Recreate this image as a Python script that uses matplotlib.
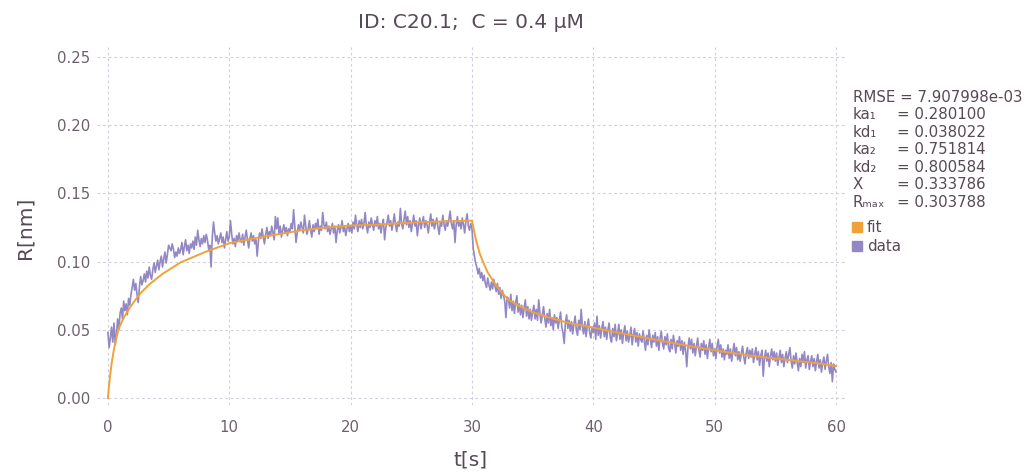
import matplotlib
matplotlib.use("Agg")
import matplotlib.pyplot as plt
from matplotlib.patches import Rectangle

plt.rcParams['font.family'] = ['DejaVu Sans']

# ---------------- data ----------------
data_dt = 0.1
data_r = [
    0.048, 0.037, 0.044, 0.052, 0.041, 0.055, 0.039, 0.047, 0.058, 0.050,
    0.062, 0.066, 0.058, 0.071, 0.064, 0.069, 0.061, 0.073, 0.068, 0.076,
    0.081, 0.087, 0.079, 0.084, 0.076, 0.070, 0.082, 0.089, 0.083, 0.086,
    0.091, 0.085, 0.093, 0.088, 0.096, 0.090, 0.087, 0.094, 0.099, 0.092,
    0.097, 0.101, 0.094, 0.100, 0.104, 0.096, 0.102, 0.107, 0.099, 0.105,
    0.112, 0.110, 0.108, 0.113, 0.109, 0.103, 0.107, 0.104, 0.110, 0.106,
    0.109, 0.114, 0.105, 0.111, 0.116, 0.108, 0.112, 0.106, 0.113, 0.110,
    0.115, 0.109, 0.118, 0.112, 0.123, 0.116, 0.111, 0.117, 0.113, 0.119,
    0.114, 0.120, 0.116, 0.109, 0.112, 0.096, 0.118, 0.129, 0.121, 0.115,
    0.119, 0.113, 0.117, 0.121, 0.114, 0.118, 0.110, 0.116, 0.122, 0.115,
    0.118, 0.130, 0.120, 0.113, 0.117, 0.111, 0.119, 0.115, 0.121, 0.116,
    0.114, 0.120, 0.112, 0.118, 0.123, 0.116, 0.110, 0.117, 0.121, 0.115,
    0.119, 0.113, 0.116, 0.104, 0.115, 0.121, 0.117, 0.124, 0.118, 0.113,
    0.120, 0.125, 0.117, 0.122, 0.119, 0.126, 0.121, 0.116, 0.133, 0.124,
    0.132, 0.120, 0.126, 0.118, 0.123, 0.127, 0.121, 0.125, 0.119, 0.124,
    0.122, 0.128, 0.124, 0.138, 0.126, 0.114, 0.121, 0.127, 0.123, 0.129,
    0.125, 0.121, 0.134, 0.126, 0.120, 0.124, 0.130, 0.123, 0.118, 0.127,
    0.122, 0.128, 0.125, 0.131, 0.120, 0.126, 0.123, 0.136, 0.127, 0.124,
    0.129, 0.122, 0.126, 0.120, 0.124, 0.128, 0.121, 0.126, 0.114, 0.123,
    0.127, 0.121, 0.125, 0.130, 0.122, 0.126, 0.119, 0.124, 0.128, 0.122,
    0.126, 0.121, 0.129, 0.124, 0.134, 0.127, 0.122, 0.130, 0.125, 0.131,
    0.124, 0.128, 0.136, 0.126, 0.121, 0.129, 0.125, 0.132, 0.127, 0.123,
    0.130, 0.126, 0.133, 0.124, 0.128, 0.121, 0.127, 0.131, 0.116, 0.125,
    0.129, 0.134, 0.126, 0.130, 0.123, 0.128, 0.135, 0.127, 0.122, 0.129,
    0.126, 0.139, 0.128, 0.124, 0.131, 0.137, 0.127, 0.133, 0.125, 0.130,
    0.122, 0.128, 0.134, 0.126, 0.130, 0.119, 0.127, 0.132, 0.124, 0.129,
    0.133, 0.125, 0.130, 0.127, 0.121, 0.128, 0.135, 0.126, 0.131, 0.124,
    0.128, 0.132, 0.125, 0.120, 0.129, 0.126, 0.134, 0.127, 0.123, 0.130,
    0.126, 0.131, 0.137, 0.128, 0.124, 0.130, 0.114, 0.127, 0.133, 0.126,
    0.129, 0.124, 0.132, 0.127, 0.121, 0.130, 0.135, 0.126, 0.123, 0.128,
    0.124, 0.110, 0.104, 0.099, 0.096, 0.091, 0.095, 0.088, 0.092, 0.086,
    0.090, 0.084, 0.081, 0.088, 0.083, 0.079, 0.085, 0.080, 0.087, 0.082,
    0.078, 0.084, 0.076, 0.081, 0.073, 0.079, 0.075, 0.071, 0.059, 0.074,
    0.073, 0.066, 0.076, 0.064, 0.071, 0.062, 0.070, 0.075, 0.063, 0.069,
    0.061, 0.068, 0.059, 0.066, 0.072, 0.060, 0.067, 0.058, 0.065, 0.057,
    0.063, 0.068, 0.058, 0.065, 0.057, 0.072, 0.062, 0.055, 0.061, 0.067,
    0.058, 0.052, 0.062, 0.055, 0.065, 0.053, 0.059, 0.050, 0.061, 0.055,
    0.059, 0.051, 0.057, 0.063, 0.052, 0.048, 0.040, 0.055, 0.061, 0.051,
    0.057, 0.049, 0.056, 0.047, 0.054, 0.060, 0.050, 0.046, 0.057, 0.050,
    0.065, 0.052, 0.047, 0.056, 0.045, 0.053, 0.058, 0.048, 0.044, 0.052,
    0.048, 0.055, 0.043, 0.060, 0.046, 0.053, 0.044, 0.051, 0.056, 0.045,
    0.052, 0.043, 0.050, 0.055, 0.044, 0.041, 0.051, 0.045, 0.054, 0.042,
    0.047, 0.054, 0.043, 0.050, 0.040, 0.048, 0.053, 0.042, 0.049, 0.041,
    0.045, 0.052, 0.039, 0.046, 0.051, 0.041, 0.048, 0.038, 0.047, 0.043,
    0.041, 0.049, 0.042, 0.035, 0.046, 0.039, 0.050, 0.043, 0.037, 0.046,
    0.041, 0.048, 0.038, 0.045, 0.035, 0.044, 0.049, 0.040, 0.036, 0.045,
    0.039, 0.047, 0.037, 0.034, 0.043, 0.036, 0.046, 0.040, 0.033, 0.042,
    0.038, 0.045, 0.035, 0.042, 0.032, 0.041, 0.035, 0.023, 0.037, 0.044,
    0.036, 0.043, 0.033, 0.040, 0.031, 0.038, 0.044, 0.035, 0.030, 0.040,
    0.035, 0.042, 0.032, 0.039, 0.029, 0.037, 0.043, 0.034, 0.040, 0.031,
    0.036, 0.029, 0.038, 0.043, 0.033, 0.039, 0.030, 0.036, 0.028, 0.035,
    0.032, 0.039, 0.029, 0.036, 0.027, 0.034, 0.040, 0.031, 0.037, 0.028,
    0.034, 0.027, 0.033, 0.038, 0.030, 0.025, 0.033, 0.037, 0.029, 0.035,
    0.030, 0.036, 0.026, 0.032, 0.037, 0.028, 0.034, 0.024, 0.031, 0.035,
    0.016, 0.029, 0.035, 0.027, 0.033, 0.023, 0.031, 0.036, 0.028, 0.034,
    0.027, 0.033, 0.024, 0.030, 0.035, 0.026, 0.032, 0.023, 0.029, 0.034,
    0.026, 0.032, 0.037, 0.027, 0.022, 0.031, 0.025, 0.033, 0.026, 0.020,
    0.029, 0.023, 0.032, 0.026, 0.034, 0.022, 0.028, 0.031, 0.021, 0.027,
    0.031, 0.023, 0.029, 0.020, 0.027, 0.032, 0.022, 0.028, 0.019, 0.026,
    0.030, 0.021, 0.027, 0.032, 0.023, 0.018, 0.026, 0.012, 0.025, 0.021,
    0.019,
]
data_t = [round(i * data_dt, 1) for i in range(len(data_r))]

fit_t = [0, 0.1, 0.2, 0.3, 0.5, 0.85, 1.2, 1.5, 2.1, 2.7, 3.5, 4.5, 6, 8, 10,
         12, 14, 16, 18, 20, 22, 24, 26, 28, 30,
         30.3, 30.6, 30.9, 31.3, 31.8, 32.3, 33, 34, 35, 36, 37, 38, 39.5,
         42, 45, 48, 50, 53, 56, 58, 60]
fit_r = [0.0, 0.010, 0.018, 0.025, 0.036, 0.050, 0.057, 0.062, 0.070, 0.077,
         0.084, 0.091, 0.0995, 0.107, 0.1135, 0.117, 0.120, 0.123, 0.125,
         0.1265, 0.127, 0.128, 0.129, 0.1295, 0.130,
         0.117, 0.107, 0.100, 0.092, 0.085, 0.079, 0.072, 0.067, 0.063, 0.060,
         0.0575, 0.055, 0.0525, 0.048, 0.043, 0.038, 0.035, 0.031, 0.028,
         0.026, 0.0235]

x_ticks = [0, 10, 20, 30, 40, 50, 60]
y_ticks = [0.00, 0.05, 0.10, 0.15, 0.20, 0.25]

param_names = ["ka\u2081", "kd\u2081", "ka\u2082", "kd\u2082", "X", "R\u2098\u2090\u2093"]
param_values = ["0.280100", "0.038022", "0.751814", "0.800584", "0.333786", "0.303788"]
rmse_text = "RMSE = 7.907998e-03"
series_names = ["fit", "data"]

# ---------------- style ----------------
c_fit = "#F0A23A"
c_data = "#9488C4"
c_text = "#6C606B"
c_title = "#564A55"
c_grid = "#D0D0E0"

W, H = 1024, 473
fig = plt.figure(figsize=(W / 100, H / 100), dpi=100)
ax = fig.add_axes([97 / W, 1 - 405 / H, (845 - 97) / W, (405 - 47) / H])

ax.plot(data_t, data_r, color=c_data, lw=1.2, zorder=2)
ax.plot(fit_t, fit_r, color=c_fit, lw=1.4, zorder=3)

ax.set_xlim(-0.9, 60.74)
ax.set_ylim(-0.0051, 0.2573)
ax.set_xticks(x_ticks)
ax.set_yticks(y_ticks)
ax.set_xticklabels([str(v) for v in x_ticks])
ax.set_yticklabels([f"{v:.2f}" for v in y_ticks])
ax.tick_params(axis="x", length=0, labelsize=10.7, colors=c_text, pad=11)
ax.tick_params(axis="y", length=0, labelsize=10.7, colors=c_text, pad=5)
ax.grid(True, color=c_grid, linestyle=(0, (2.5, 2.5)), lw=0.8)
for s in ax.spines.values():
    s.set_visible(False)
ax.set_axisbelow(True)

fig.text(471 / W, 1 - 22 / H, "ID: C20.1;  C = 0.4 \u03bcM", ha="center",
         va="center", fontsize=14.5, color=c_title)
fig.text(471 / W, 1 - 460 / H, "t[s]", ha="center", va="center",
         fontsize=14.5, color=c_title)
fig.text(25 / W, 1 - 228 / H, "R[nm]", ha="center", va="center",
         rotation=90, fontsize=14.5, color=c_title)

# legend / parameters
y0 = 97.3
dy = 17.5
fig.text(853 / W, 1 - y0 / H, rmse_text, ha="left", va="center",
         fontsize=10.8, color=c_title)
for i, (n, v) in enumerate(zip(param_names, param_values)):
    yy = 1 - (y0 + dy * (i + 1)) / H
    fig.text(853 / W, yy, n, ha="left", va="center", fontsize=10.8, color=c_title)
    fig.text(897 / W, yy, "= " + v, ha="left", va="center", fontsize=10.8, color=c_title)

for i, (name, col) in enumerate(zip(series_names, [c_fit, c_data])):
    yc = 227 + 19 * i
    fig.patches.append(Rectangle((852 / W, 1 - (yc + 5) / H), 10 / W, 10 / H,
                                 transform=fig.transFigure, color=col, figure=fig))
    fig.text(867 / W, 1 - yc / H, name, ha="left", va="center",
             fontsize=10.8, color=c_title)

fig.savefig("out.png", dpi=100)
